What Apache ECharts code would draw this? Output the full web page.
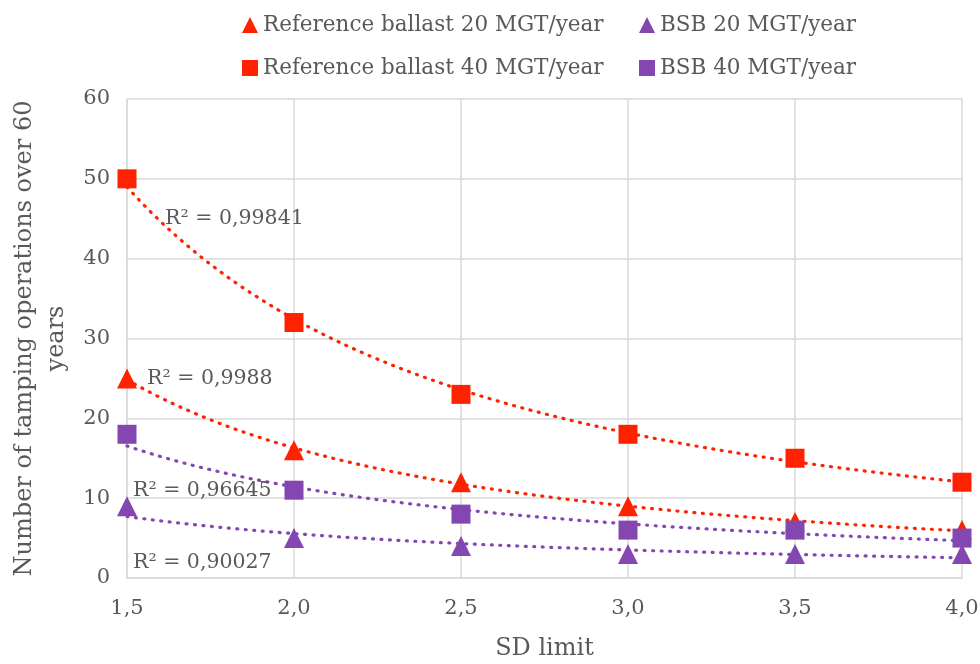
<!DOCTYPE html>
<html>
<head>
<meta charset="utf-8">
<script src="https://cdn.jsdelivr.net/npm/echarts@6/dist/echarts.min.js"></script>
<style>
  html, body { margin: 0; padding: 0; background: #fff; }
  #chart { width: 980px; height: 664px; }
</style>
</head>
<body>
<div id="chart"></div>
<script>
// SD limit on the x axis
const sdLimit = [1.5, 2.0, 2.5, 3.0, 3.5, 4.0];
// tamping operations over 60 years
const ref20 = [25, 16, 12, 9, 7, 6];
const ref40 = [50, 32, 23, 18, 15, 12];
const bsb20 = [9, 5, 4, 3, 3, 3];
const bsb40 = [18, 11, 8, 6, 6, 5];
// R² of the power trendlines, as printed
const r2Ref20 = 'R² = 0,9988';
const r2Ref40 = 'R² = 0,99841';
const r2Bsb20 = 'R² = 0,90027';
const r2Bsb40 = 'R² = 0,96645';

const RED = '#ff2200';
const PURPLE = '#8446b0';
const TXT = '#595959';
const FONT = 'DejaVu Serif';

// least squares power fit y = a * x^b (same as an Excel power trendline)
function powerFit(xs, ys) {
  const lx = xs.map(Math.log);
  const ly = ys.map(Math.log);
  const n = xs.length;
  const mx = lx.reduce((a, b) => a + b, 0) / n;
  const my = ly.reduce((a, b) => a + b, 0) / n;
  let sxy = 0, sxx = 0;
  for (let i = 0; i < n; i++) {
    sxy += (lx[i] - mx) * (ly[i] - my);
    sxx += (lx[i] - mx) * (lx[i] - mx);
  }
  const b = sxy / sxx;
  const a = Math.exp(my - b * mx);
  return x => a * Math.pow(x, b);
}

function trendData(ys) {
  const f = powerFit(sdLimit, ys);
  const out = [];
  const x0 = sdLimit[0], x1 = sdLimit[sdLimit.length - 1];
  const steps = 100;
  for (let i = 0; i <= steps; i++) {
    const x = x0 + (x1 - x0) * i / steps;
    out.push([x, f(x)]);
  }
  return out;
}

const pts = ys => sdLimit.map((x, i) => [x, ys[i]]);

function scatter(name, ys, color, symbol) {
  return {
    name, type: 'scatter', data: pts(ys), symbol,
    symbolSize: symbol === 'rect' ? 19 : 20,
    itemStyle: { color, opacity: 1 }, z: 5
  };
}

function trend(name, ys, color, label, coord) {
  return {
    name, type: 'line', data: trendData(ys), showSymbol: false, silent: true,
    lineStyle: { color, width: 3.2, type: [1, 7.5], cap: 'round' },
    z: 3,
    markPoint: {
      symbol: 'circle', symbolSize: 0, silent: true,
      label: {
        show: true, position: 'right', distance: 0, formatter: label,
        color: TXT, fontFamily: FONT, fontSize: 20.5
      },
      data: [{ coord }]
    }
  };
}

const legendText = { color: TXT, fontFamily: FONT, fontSize: 21.5 };

const chart = echarts.init(document.getElementById('chart'));
chart.setOption({
  animation: false,
  backgroundColor: '#fff',
  textStyle: { fontFamily: FONT },
  grid: { left: 127, right: 18, top: 99, bottom: 86, containLabel: false, outerBoundsMode: 'none' },
  legend: [
    {
      orient: 'vertical', left: 237, top: 9, itemGap: 21,
      itemWidth: 16, itemHeight: 16, itemTextGap: 3,
      textStyle: legendText,
      data: ['Reference ballast 20 MGT/year', 'Reference ballast 40 MGT/year']
    },
    {
      orient: 'vertical', left: 634, top: 9, itemGap: 21,
      itemWidth: 16, itemHeight: 16, itemTextGap: 3,
      textStyle: legendText,
      data: ['BSB 20 MGT/year', 'BSB 40 MGT/year']
    }
  ],
  xAxis: {
    type: 'value', min: 1.5, max: 4, interval: 0.5,
    name: 'SD limit', nameLocation: 'middle', nameGap: 59,
    nameTextStyle: { color: TXT, fontFamily: FONT, fontSize: 24 },
    axisLine: { show: true, lineStyle: { color: '#d9d9d9', width: 1.5 } },
    axisTick: { show: false },
    axisLabel: {
      color: TXT, fontFamily: FONT, fontSize: 21, margin: 20,
      formatter: v => v.toFixed(1).replace('.', ',')
    },
    splitLine: { show: true, lineStyle: { color: '#d9d9d9', width: 1.5 } }
  },
  yAxis: {
    type: 'value', min: 0, max: 60, interval: 10,
    name: 'Number of tamping operations over 60\nyears',
    nameLocation: 'middle', nameGap: 53,
    nameTextStyle: { color: TXT, fontFamily: FONT, fontSize: 24, lineHeight: 32 },
    axisLine: { show: true, lineStyle: { color: '#d9d9d9', width: 1.5 } },
    axisTick: { show: false },
    axisLabel: { color: TXT, fontFamily: FONT, fontSize: 21, margin: 17 },
    splitLine: { show: true, lineStyle: { color: '#d9d9d9', width: 1.5 } }
  },
  series: [
    trend('trend ref40', ref40, RED, r2Ref40, [1.614, 45]),
    trend('trend ref20', ref20, RED, r2Ref20, [1.56, 25]),
    trend('trend bsb40', bsb40, PURPLE, r2Bsb40, [1.518, 11]),
    trend('trend bsb20', bsb20, PURPLE, r2Bsb20, [1.518, 1.9]),
    scatter('Reference ballast 20 MGT/year', ref20, RED, 'triangle'),
    scatter('BSB 20 MGT/year', bsb20, PURPLE, 'triangle'),
    scatter('Reference ballast 40 MGT/year', ref40, RED, 'rect'),
    scatter('BSB 40 MGT/year', bsb40, PURPLE, 'rect')
  ]
});
</script>
</body>
</html>
